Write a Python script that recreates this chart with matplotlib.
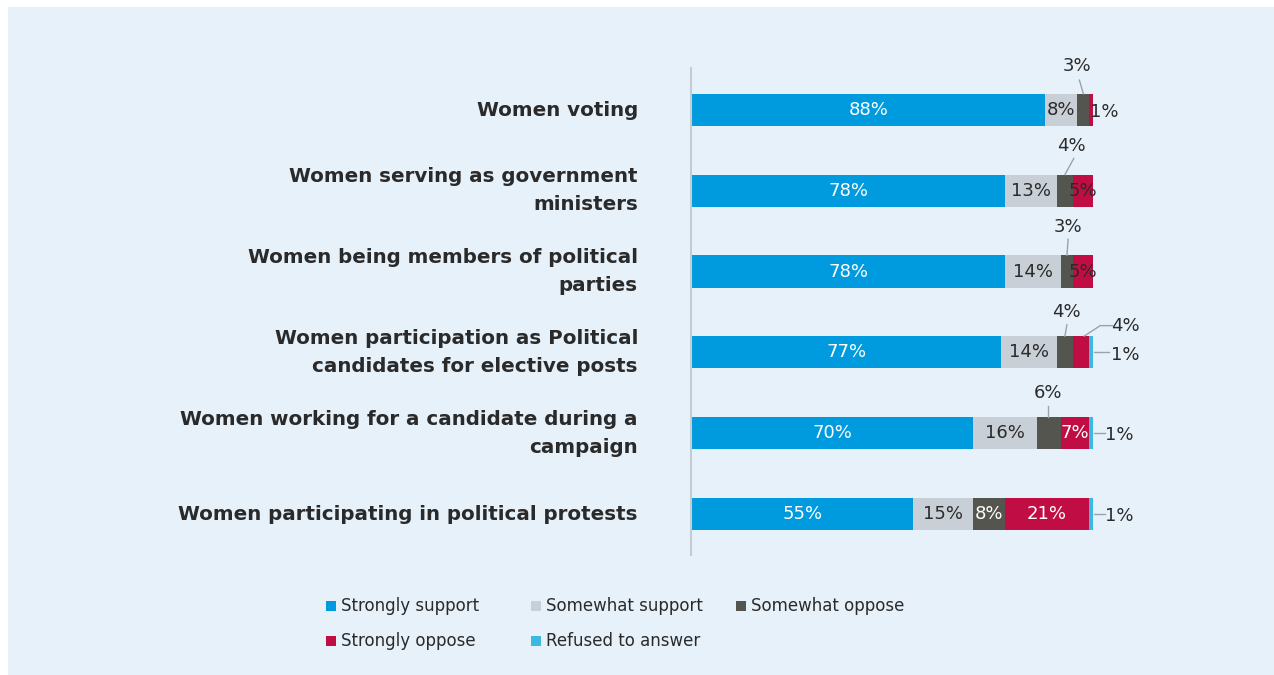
import matplotlib.pyplot as plt
from matplotlib.patches import Rectangle
import numpy as np

# ---- data ----
categories = [
    "Women voting",
    "Women serving as government\nministers",
    "Women being members of political\nparties",
    "Women participation as Political\ncandidates for elective posts",
    "Women working for a candidate during a\ncampaign",
    "Women participating in political protests",
]
series = ["Strongly support", "Somewhat support", "Somewhat oppose",
          "Strongly oppose", "Refused to answer"]
strongly_support = [88, 78, 78, 77, 70, 55]
somewhat_support = [8, 13, 14, 14, 16, 15]
somewhat_oppose = [3, 4, 3, 4, 6, 8]
strongly_oppose = [1, 5, 5, 4, 7, 21]
refused = [0, 0, 0, 1, 1, 1]

colors = ["#009bde", "#c9cfd6", "#55554f", "#c00d43", "#3bb9e3"]
bg = "#e6f1fa"
dark = "#2a2a2a"
lead = "#9aa3ab"

W, H = 1274, 675
fig = plt.figure(figsize=(W / 100, H / 100), dpi=100)
fig.patch.set_facecolor("white")
fig.patches.append(Rectangle((8 / W, 0), 1, 1 - 7 / H, transform=fig.transFigure,
                             facecolor=bg, edgecolor="none", zorder=-10))

# axes: x 0..100 mapped to pixels 692..1093, y rows between pixels 68..555
ax = fig.add_axes([692 / W, 1 - 555 / H, (1093 - 692) / W, (555 - 68) / H])
ax.set_facecolor("none")
ax.set_xlim(0, 100)
ax.set_ylim(5.51, -0.52)
for s in ["top", "right", "bottom"]:
    ax.spines[s].set_visible(False)
ax.spines["left"].set_color("#c3ccd4")
ax.spines["left"].set_linewidth(1.5)
ax.spines["left"].set_position(("outward", 1))
ax.set_xticks([])
ax.set_yticks([])

data = [strongly_support, somewhat_support, somewhat_oppose, strongly_oppose, refused]
y = np.arange(len(categories))
left = np.zeros(len(categories))
bh = 0.40
for vals, c in zip(data, colors):
    ax.barh(y, vals, left=left, height=bh, color=c, edgecolor="none")
    left += np.array(vals)

fs = 13
fam = "DejaVu Sans"

def lab(x, yy, txt, color=dark, ha="center"):
    ax.text(x, yy, txt, ha=ha, va="center", fontsize=fs, color=color, family=fam,
            clip_on=False)

for i in range(len(categories)):
    ss, sw, so, sto, rf = (d[i] for d in data)
    lab(ss / 2, i, f"{ss}%", color="white")
    lab(ss + sw / 2, i, f"{sw}%")
    # somewhat oppose
    if i == 5:
        lab(ss + sw + so / 2, i, f"{so}%", color="white")
    # strongly oppose
    x_so = ss + sw + so
    if i == 0:
        lab(x_so + 0.2, i + 0.03, f"{sto}%", ha="left")
    elif i in (1, 2):
        lab(x_so + sto / 2, i, f"{sto}%")
    elif i in (4, 5):
        lab(x_so + sto / 2, i, f"{sto}%", color="white")

# callout labels for small segments (above the bar with leader lines)
callouts = [
    # (row, label, text_x, text_y, line_x0, line_y0, line_x1, line_y1)
    (0, "3%", 95.9, -0.55, 96.6, -0.37, 97.6, -0.2),
    (1, "4%", 94.7, -0.55, 95.2, -0.40, 93.0, -0.2),
    (2, "3%", 93.7, -0.55, 93.8, -0.40, 93.5, -0.2),
    (3, "4%", 93.4, -0.50, 93.5, -0.34, 93.0, -0.2),
    (4, "6%", 88.7, -0.50, 88.9, -0.34, 88.9, -0.2),
]
for r, t, tx, ty, x0, y0, x1, y1 in callouts:
    lab(tx, r + ty, t)
    ax.plot([x0, x1], [r + y0, r + y1], color=lead, lw=1, clip_on=False)

# row 3 strongly oppose 4% with elbow
ax.plot([97.8, 101.8, 104.8], [3 - 0.2, 3 - 0.33, 3 - 0.33], color=lead, lw=1,
        clip_on=False)
lab(108.0, 3 - 0.33, "4%")
# refused 1% labels on right
for r, lx1, tx in [(3, 104.0, 108.0), (4, 103.0, 106.5), (5, 103.0, 106.5)]:
    ax.plot([100.3, lx1], [r + 0.0, r + 0.0], color=lead, lw=1, clip_on=False)
    lab(tx, r + 0.03, "1%")

# category labels
for i, c in enumerate(categories):
    fig.text(638 / W, 1 - (110 + i * 80.8) / H, c, ha="right", va="center",
             fontsize=14.3, fontweight="bold", color=dark, family=fam,
             linespacing=1.6)

# legend, laid out in rows of three
for i, s in enumerate(series):
    col, row = i % 3, i // 3
    x = 326 + col * 205
    yy = 606 + row * 35
    fig.patches.append(Rectangle((x / W, 1 - (yy + 5) / H), 10 / W, 10 / H,
                                 transform=fig.transFigure, facecolor=colors[i],
                                 edgecolor="none"))
    fig.text((x + 15) / W, 1 - yy / H, s, ha="left", va="center", fontsize=12,
             color=dark, family=fam)

fig.savefig("out.png", dpi=100, facecolor=fig.get_facecolor())
